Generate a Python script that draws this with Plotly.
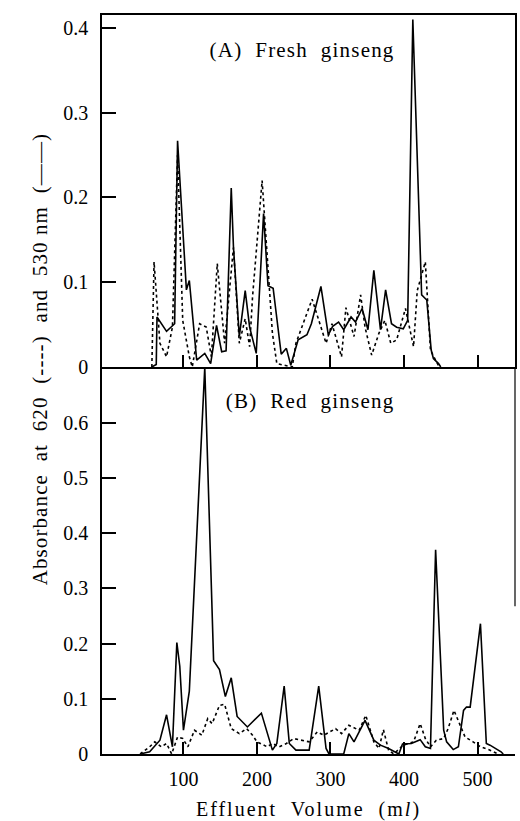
import plotly.graph_objects as go

# ---------------- data ----------------
# (A) Fresh ginseng
a_sol_x = [57, 63, 64, 77, 88, 92, 104, 108, 118, 129, 137, 145, 152, 158, 165, 168, 176, 184, 190, 199,
           209, 215, 222, 233, 240, 246, 256, 268, 274, 287, 297, 303, 311, 318, 328, 334, 343, 351, 359,
           368, 375, 383, 390, 399, 405, 412, 424, 431, 437, 440, 447, 450]
a_sol_y = [0, 0.003, 0.059, 0.042, 0.051, 0.267, 0.091, 0.102, 0.008, 0.016, 0.004, 0.049, 0.018, 0.019,
           0.211, 0.142, 0.036, 0.090, 0.047, 0.016, 0.181, 0.096, 0.093, 0.015, 0.022, 0.002, 0.032,
           0.038, 0.051, 0.095, 0.038, 0.048, 0.053, 0.044, 0.059, 0.053, 0.069, 0.044, 0.114, 0.044,
           0.091, 0.051, 0.047, 0.045, 0.055, 0.410, 0.085, 0.079, 0.020, 0.010, 0.004, 0]
a_dot_x = [57, 60, 68, 77, 85, 92, 99, 108, 112, 122, 131, 138, 146, 156, 168, 176, 184, 190, 194, 207,
           221, 227, 248, 253, 275, 294, 302, 315, 321, 332, 341, 347, 356, 366, 374, 382, 390, 402,
           413, 418, 429, 436, 443, 448]
a_dot_y = [0, 0.124, 0.028, 0.012, 0.047, 0.250, 0.055, 0.012, 0.0, 0.051, 0.047, 0.012, 0.122, 0.028,
           0.141, 0.028, 0.057, 0.024, 0.083, 0.220, 0.040, 0.004, 0, 0.028, 0.080, 0.028, 0.051, 0.012,
           0.070, 0.036, 0.085, 0.047, 0.014, 0.040, 0.055, 0.028, 0.032, 0.069, 0.024, 0.090, 0.124,
           0.020, 0.008, 0]

# (B) Red ginseng
b_sol_x = [41, 54, 68, 77, 85, 91, 95, 100, 108, 129, 141, 149, 157, 165, 173, 187, 206, 221, 227, 237,
           244, 253, 271, 284, 294, 298, 318, 325, 332, 347, 359, 368, 379, 387, 393, 398, 410, 422,
           429, 436, 443, 454, 458, 467, 474, 481, 485, 490, 504, 512, 517, 532, 535]
b_sol_y = [0, 0.004, 0.025, 0.071, 0.013, 0.202, 0.159, 0.043, 0.114, 0.700, 0.169, 0.153, 0.104, 0.138,
           0.068, 0.049, 0.074, 0.007, 0.019, 0.123, 0.019, 0.007, 0.007, 0.123, 0.010, 0, 0, 0.037,
           0.022, 0.061, 0.025, 0.016, 0.010, 0.004, 0, 0.018, 0.019, 0.026, 0.013, 0.010, 0.370, 0.043,
           0.022, 0.008, 0.013, 0.079, 0.085, 0.085, 0.236, 0.019, 0.016, 0.004, 0]
b_dot_x = [41, 54, 61, 70, 77, 84, 92, 99, 106, 115, 125, 133, 139, 149, 156, 165, 176, 186, 194, 200,
           214, 221, 230, 240, 250, 271, 282, 291, 307, 315, 325, 339, 348, 359, 366, 372, 379, 386,
           399, 413, 422, 429, 436, 444, 454, 460, 468, 477, 483, 494, 504, 515, 528]
b_dot_y = [0, 0.013, 0.022, 0.013, 0.019, 0.0, 0.031, 0.028, 0.013, 0.043, 0.034, 0.064, 0.055, 0.088,
           0.090, 0.046, 0.037, 0.046, 0.034, 0.022, 0.013, 0.019, 0.013, 0.019, 0.028, 0.022, 0.040,
           0.034, 0.046, 0.037, 0.052, 0.043, 0.070, 0.022, 0.010, 0.044, 0.007, 0, 0.016, 0.022, 0.055,
           0.028, 0.013, 0.025, 0.028, 0.046, 0.079, 0.049, 0.031, 0.022, 0.013, 0.008, 0]

x_ticks = [100, 200, 300, 400, 500]
a_yticks = [0, 0.1, 0.2, 0.3, 0.4]
b_yticks = [0, 0.1, 0.2, 0.3, 0.4, 0.5, 0.6]

panel_a_label = "(A)  Fresh  ginseng"
panel_b_label = "(B)  Red  ginseng"
x_title = "Effluent  Volume  (m<i>l</i>)"
y_title = "Absorbance  at  620  (----)  and  530 nm  (——)"

# ---------------- figure ----------------
FONT = "Liberation Serif"
fig = go.Figure()

line_solid = dict(color="black", width=1.6)
line_dot = dict(color="black", width=1.6, dash="dot")

fig.add_trace(go.Scatter(x=a_dot_x, y=a_dot_y, mode="lines", line=line_dot, xaxis="x", yaxis="y"))
fig.add_trace(go.Scatter(x=a_sol_x, y=a_sol_y, mode="lines", line=line_solid, xaxis="x", yaxis="y"))
fig.add_trace(go.Scatter(x=b_dot_x, y=b_dot_y, mode="lines", line=line_dot, xaxis="x2", yaxis="y2"))
fig.add_trace(go.Scatter(x=b_sol_x, y=b_sol_y, mode="lines", line=line_solid, xaxis="x2", yaxis="y2"))

xr = [-10.8, 551]
split = 0.5237

common_x = dict(range=xr, tickvals=x_ticks, ticks="inside", ticklen=12, tickwidth=1.5,
                tickcolor="black", showline=True, linecolor="black", linewidth=1.5,
                showgrid=False, zeroline=False)
common_y = dict(ticks="inside", ticklen=14, tickwidth=1.5, tickcolor="black", showline=True,
                linecolor="black", linewidth=1.5, showgrid=False, zeroline=False,
                ticklabelstandoff=8)

fig.update_layout(
    width=520, height=821,
    margin=dict(l=102, r=3, t=15, b=67),
    paper_bgcolor="white", plot_bgcolor="white",
    showlegend=False,
    font=dict(family=FONT, size=20, color="black"),
    xaxis=dict(domain=[0, 1], anchor="y", showticklabels=False, mirror=True, **common_x),
    yaxis=dict(domain=[split, 1], anchor="x", range=[0, 0.4153], tickvals=a_yticks,
               ticktext=["0", "0.1", "0.2", "0.3", "0.4"], mirror=True, **common_y),
    xaxis2=dict(domain=[0, 1], anchor="y2", showticklabels=True, ticktext=[str(v) for v in x_ticks],
                ticklabelstandoff=6,
                title=dict(text=x_title, font=dict(size=20), standoff=14), **common_x),
    yaxis2=dict(domain=[0, split], anchor="x2", range=[0, 0.701], tickvals=b_yticks,
                ticktext=["0", "0.1", "0.2", "0.3", "0.4", "0.5", "0.6"], **common_y),
    annotations=[
        dict(text=panel_a_label, xref="x", yref="y", x=262, y=0.374, showarrow=False,
             font=dict(size=21)),
        dict(text=panel_b_label, xref="x2", yref="y2", x=273, y=0.639, showarrow=False,
             font=dict(size=21)),
        dict(text=y_title, xref="paper", yref="paper", x=-0.1855, y=0.535, textangle=-90,
             showarrow=False, font=dict(size=21)),
    ],
    shapes=[
        dict(type="line", xref="paper", yref="paper", x0=1, x1=1, y0=split, y1=0.20,
             line=dict(color="black", width=1.2)),
    ],
)

# widen letter spacing of the titles/labels like the typeset original
post_js = """
var anns = document.querySelectorAll('.annotation-text');
var sp = ['1.2px', '1.2px', '1.1px'];
for (var i = 0; i < anns.length && i < sp.length; i++) { anns[i].style.letterSpacing = sp[i]; }
var xt = document.querySelectorAll('.g-x2title text, .x2title');
xt.forEach(function(t){ t.style.letterSpacing = '2px'; });
"""

fig.write_html("out.html", post_script=post_js)
